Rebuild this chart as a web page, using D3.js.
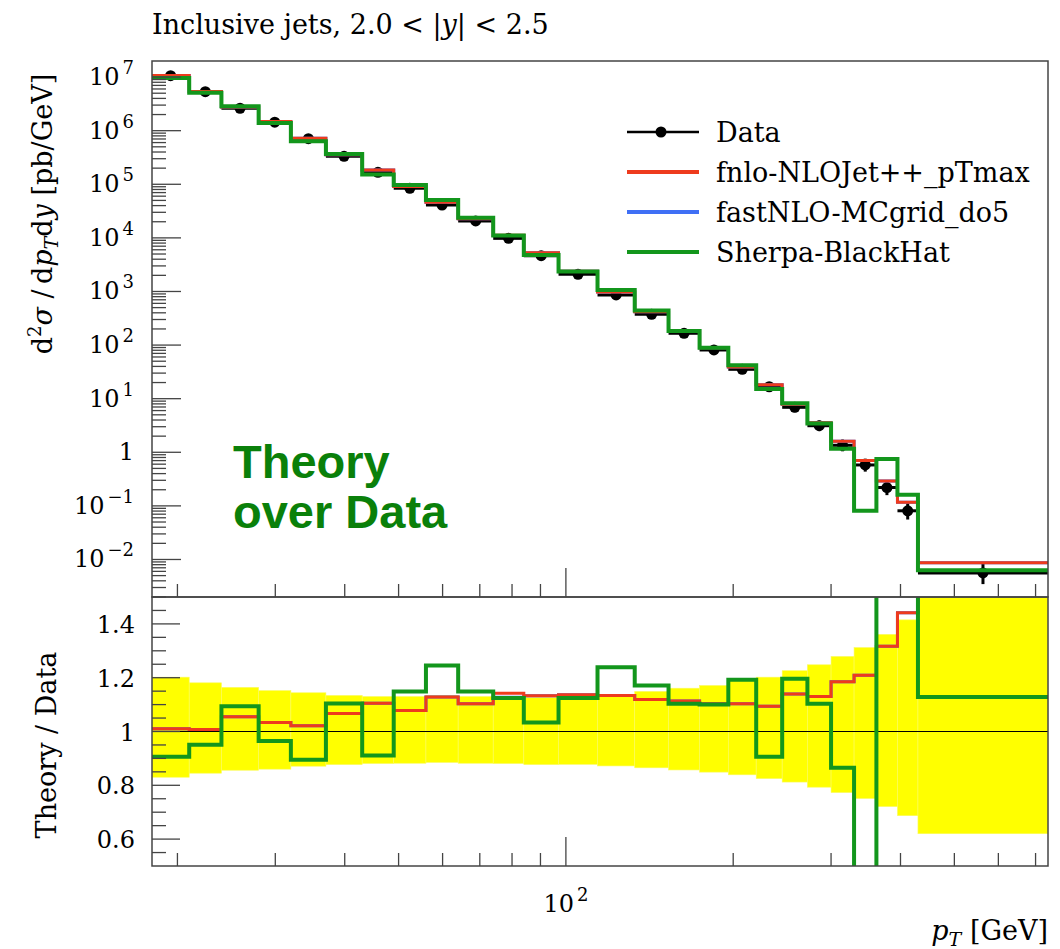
<!DOCTYPE html>
<html><head><meta charset="utf-8">
<script src="https://cdn.jsdelivr.net/npm/d3@7"></script>
<style>body{margin:0;background:#fff}svg{display:block}</style>
</head><body>
<svg id="c" width="1060" height="949"></svg>
<script>
// ---- data ----
const binEdges = [18,21,24,28,32,37,43,49,56,64,74,84,97,114,133,153,174,196,220,245,272,300,330,362,395,430,737];
const dataValues = [1.06e7,5.35e6,2.62e6,1.44e6,7.1e5,3.33e5,1.67e5,8.4e4,4.1e4,2.07e4,9.8e3,4.66e3,2.09e3,861,376,166,81,35.3,16.7,6.9,3.13,1.35,0.58,0.22,0.081,0.0056];
const ratioNLOJet = [1.01,1.007,1.055,1.033,1.021,1.067,1.105,1.078,1.128,1.103,1.142,1.133,1.137,1.134,1.119,1.113,1.103,1.103,1.094,1.139,1.130,1.185,1.209,1.317,1.441,1.55];
const ratioMCgrid = [1.01,1.007,1.055,1.033,1.021,1.067,1.105,1.078,1.128,1.103,1.127,1.133,1.137,1.134,1.119,1.113,1.103,1.103,1.094,1.139,1.130,1.185,1.209,1.317,1.441,1.55];
const ratioSherpa = [0.906,0.951,1.094,0.965,0.895,1.104,0.911,1.149,1.245,1.149,1.125,1.033,1.125,1.239,1.171,1.103,1.100,1.192,0.906,1.196,1.103,0.865,0.14,3.4,2.0,1.128];
const bandHigh = [1.202,1.181,1.164,1.152,1.144,1.134,1.130,1.130,1.134,1.130,1.126,1.126,1.125,1.130,1.149,1.161,1.171,1.193,1.202,1.226,1.248,1.279,1.312,1.361,1.415,1.6];
const bandLow = [0.830,0.845,0.856,0.860,0.871,0.877,0.881,0.882,0.885,0.882,0.881,0.877,0.878,0.872,0.865,0.857,0.849,0.839,0.825,0.812,0.793,0.773,0.751,0.721,0.687,0.620];
const upperExponents = [-2,-1,0,1,2,3,4,5,6,7];
const ratioTicks = [0.6,0.8,1,1.2,1.4];
const seriesNames = ["Data","fnlo-NLOJet++_pTmax","fastNLO-MCgrid_do5","Sherpa-BlackHat"];

// ---- layout ----
const L = 152, R = 1048, T1 = 61, B1 = 597, B2 = 866;
const colRed = "#ee3b1d", colBlue = "#3f6ff5", colGreen = "#13961c";
const serif = "'DejaVu Serif', 'Liberation Serif', serif";
const svg = d3.select("#c");

const x = d3.scaleLog().domain([binEdges[0], binEdges[binEdges.length-1]]).range([L, R]);
const yU = d3.scaleLog().domain([Math.pow(10,-2.7), Math.pow(10,7.3)]).range([B1, T1]);
const yR = d3.scaleLinear().domain([0.5, 1.5]).range([B2, B1]);

const bins = dataValues.map((v,i)=>({x0:binEdges[i], x1:binEdges[i+1], v,
  red: v*ratioNLOJet[i], blue: v*ratioMCgrid[i], green: v*ratioSherpa[i],
  rr: ratioNLOJet[i], rb: ratioMCgrid[i], rg: ratioSherpa[i],
  hi: bandHigh[i], lo: bandLow[i]}));

svg.append("defs").call(d=>{
  d.append("clipPath").attr("id","clipU").append("rect").attr("x",L).attr("y",T1).attr("width",R-L).attr("height",B1-T1);
  d.append("clipPath").attr("id","clipR").append("rect").attr("x",L).attr("y",B1).attr("width",R-L).attr("height",B2-B1);
});

function stepPath(key, yScale){
  const pts = [];
  bins.forEach(b=>{ pts.push([x(b.x0), yScale(b[key])]); pts.push([x(b.x1), yScale(b[key])]); });
  return d3.line()(pts);
}

// ---- upper panel ----
const gU = svg.append("g").attr("clip-path","url(#clipU)");
gU.selectAll(".dx").data(bins).join("line")
  .attr("x1",d=>x(d.x0)).attr("x2",d=>x(d.x1)).attr("y1",d=>yU(d.v)).attr("y2",d=>yU(d.v))
  .attr("stroke","#000").attr("stroke-width",3);
gU.selectAll(".dy").data(bins).join("line")
  .attr("x1",d=>x(Math.sqrt(d.x0*d.x1))).attr("x2",d=>x(Math.sqrt(d.x0*d.x1)))
  .attr("y1",d=>yU(d.v*d.lo)).attr("y2",d=>yU(d.v*d.hi))
  .attr("stroke","#000").attr("stroke-width",3);
gU.selectAll(".dot").data(bins).join("circle")
  .attr("cx",d=>x(Math.sqrt(d.x0*d.x1))).attr("cy",d=>yU(d.v)).attr("r",5.5).attr("fill","#000");
gU.append("path").attr("d",stepPath("blue",yU)).attr("fill","none").attr("stroke",colBlue).attr("stroke-width",3);
gU.append("path").attr("d",stepPath("red",yU)).attr("fill","none").attr("stroke",colRed).attr("stroke-width",3);
gU.append("path").attr("d",stepPath("green",yU)).attr("fill","none").attr("stroke",colGreen).attr("stroke-width",4);

// ---- ratio panel ----
const gR = svg.append("g").attr("clip-path","url(#clipR)");
gR.selectAll(".band").data(bins).join("rect")
  .attr("x",d=>x(d.x0)).attr("width",d=>x(d.x1)-x(d.x0))
  .attr("y",d=>yR(d.hi)).attr("height",d=>yR(d.lo)-yR(d.hi))
  .attr("fill","#ffff00").attr("stroke","#fbfb60").attr("stroke-width",0.6);
gR.append("line").attr("x1",L).attr("x2",R).attr("y1",yR(1)).attr("y2",yR(1)).attr("stroke","#000").attr("stroke-width",1);
gR.append("path").attr("d",stepPath("rb",yR)).attr("fill","none").attr("stroke",colBlue).attr("stroke-width",3);
gR.append("path").attr("d",stepPath("rr",yR)).attr("fill","none").attr("stroke",colRed).attr("stroke-width",3);
gR.append("path").attr("d",stepPath("rg",yR)).attr("fill","none").attr("stroke",colGreen).attr("stroke-width",4);

// ---- frames ----
const frameCol = "#444";
svg.append("rect").attr("x",L).attr("y",T1).attr("width",R-L).attr("height",B1-T1).attr("fill","none").attr("stroke",frameCol).attr("stroke-width",1.5);
svg.append("rect").attr("x",L).attr("y",B1).attr("width",R-L).attr("height",B2-B1).attr("fill","none").attr("stroke",frameCol).attr("stroke-width",1.5);

// ---- ticks ----
const tickG = svg.append("g").attr("stroke",frameCol).attr("stroke-width",1.3);
const xMinor = [20,30,40,50,60,70,80,90,200,300,400,500,600,700];
const xMajor = [100];
[B1,B2].forEach(yb=>{
  xMinor.forEach(v=>tickG.append("line").attr("x1",x(v)).attr("x2",x(v)).attr("y1",yb).attr("y2",yb-13));
  xMajor.forEach(v=>tickG.append("line").attr("x1",x(v)).attr("x2",x(v)).attr("y1",yb).attr("y2",yb-29));
});
const [ylo, yhi] = yU.domain();
for(let e=-3;e<=7;e++){
  for(let m=1;m<=9;m++){
    const v = m*Math.pow(10,e);
    if(v<ylo||v>yhi) continue;
    tickG.append("line").attr("x1",L).attr("x2",L+(m===1?29:14)).attr("y1",yU(v)).attr("y2",yU(v));
  }
}
for(let k=0;k<=20;k++){
  const v = 0.5+k*0.05;
  if(v<=0.5+1e-9||v>=1.5-1e-9) continue;
  const major = Math.abs(v*10-Math.round(v*10))<1e-6 && Math.round(v*10)%2===0;
  tickG.append("line").attr("x1",L).attr("x2",L+(major?28:14)).attr("y1",yR(v)).attr("y2",yR(v));
}

// ---- tick labels ----
const lab = svg.append("g").attr("font-family",serif).attr("fill","#000");
upperExponents.forEach(e=>{
  const t = lab.append("text").attr("x",134).attr("y",yU(Math.pow(10,e))+8).attr("text-anchor","end").attr("font-size",24);
  if(e===0){ t.text("1"); }
  else {
    t.append("tspan").text("10");
    t.append("tspan").attr("dx",3).attr("dy",-11).attr("font-size",18).text(e<0?"\u2212"+(-e):String(e));
  }
});
ratioTicks.forEach(v=>{
  lab.append("text").attr("x",135).attr("y",yR(v)+9).attr("text-anchor","end").attr("font-size",24).text(String(v));
});
const xl = lab.append("text").attr("x",x(100)).attr("y",912).attr("text-anchor","middle").attr("font-size",24);
xl.append("tspan").text("10");
xl.append("tspan").attr("dx",3).attr("dy",-11).attr("font-size",18).text("2");

// ---- axis titles ----
const xt = lab.append("text").attr("x",R).attr("y",940).attr("text-anchor","end").attr("font-size",27);
xt.append("tspan").attr("font-style","italic").text("p");
xt.append("tspan").attr("font-style","italic").attr("font-size",19).attr("dy",6).text("T");
xt.append("tspan").attr("dy",-6).text(" [GeV]");

const yt = lab.append("text").attr("transform","translate(52,214) rotate(-90)").attr("text-anchor","middle").attr("font-size",27);
yt.append("tspan").text("d");
yt.append("tspan").attr("font-size",18).attr("dy",-11).text("2");
yt.append("tspan").attr("dy",11).attr("font-style","italic").text("σ");
yt.append("tspan").text(" /\u2009d");
yt.append("tspan").attr("font-style","italic").text("p");
yt.append("tspan").attr("font-style","italic").attr("font-size",19).attr("dy",6).text("T");
yt.append("tspan").attr("dy",-6).text("d");
yt.append("tspan").attr("font-style","italic").text("y");
yt.append("tspan").text(" [pb/GeV]");

lab.append("text").attr("transform","translate(56,745) rotate(-90)").attr("text-anchor","middle").attr("font-size",27).text("Theory / Data");

const tt = lab.append("text").attr("x",L).attr("y",34).attr("font-size",27);
tt.append("tspan").text("Inclusive jets, 2.0 < |");
tt.append("tspan").attr("font-style","italic").text("y");
tt.append("tspan").text("| < 2.5");

// ---- legend ----
const legY = [132,172,212,252];
const legCols = ["#000",colRed,colBlue,colGreen];
const leg = svg.append("g");
seriesNames.forEach((n,i)=>{
  leg.append("line").attr("x1",627).attr("x2",699).attr("y1",legY[i]).attr("y2",legY[i])
    .attr("stroke",legCols[i]).attr("stroke-width",i===0?2.5:4);
  if(i===0) leg.append("circle").attr("cx",661).attr("cy",legY[i]).attr("r",5.5).attr("fill","#000");
  leg.append("text").attr("x",716).attr("y",legY[i]+10).attr("font-family",serif).attr("font-size",27).text(n);
});

// ---- annotation ----
const ann = svg.append("g").attr("font-family","'Liberation Sans', Arial, sans-serif").attr("font-weight","bold").attr("font-size",47).attr("fill","#0a800a");
ann.append("text").attr("x",233).attr("y",478).text("Theory");
ann.append("text").attr("x",233).attr("y",528).text("over Data");
</script>
</body></html>
